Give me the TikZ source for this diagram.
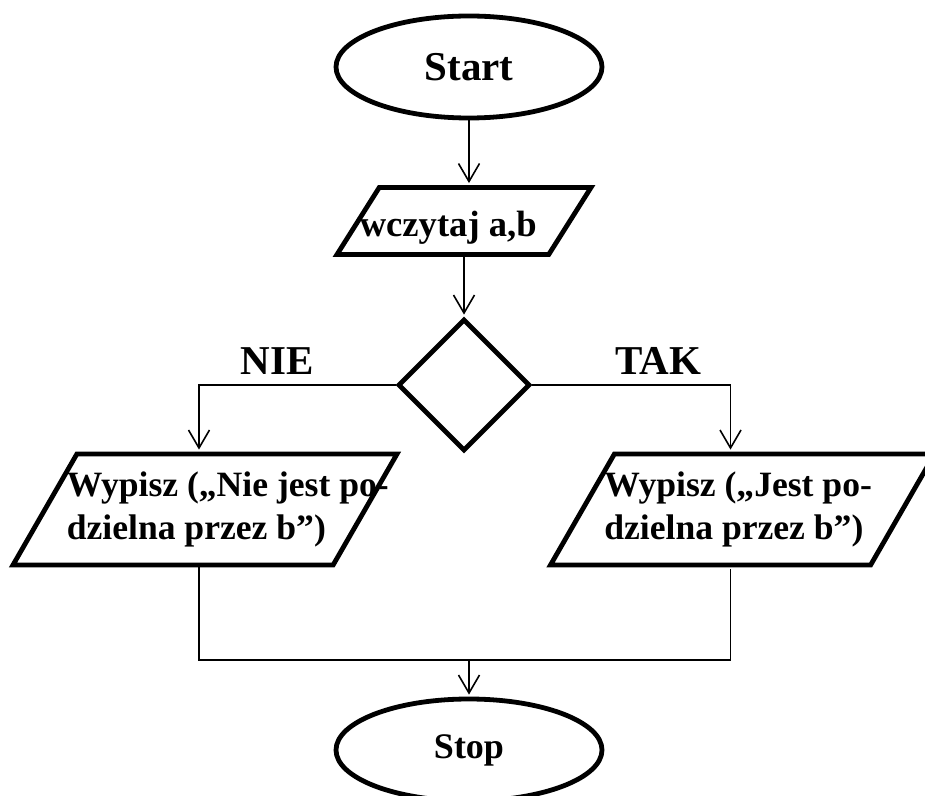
\documentclass[tikz,border=0pt]{standalone}
\usepackage{fontspec}
\setmainfont{Liberation Serif}
\usetikzlibrary{shapes.geometric,positioning,arrows.meta}

\begin{document}
\begin{tikzpicture}[shorten >=1pt,node distance=2cm,on grid,auto,line width=0.8pt,
	>={Straight Barb[length=9pt,width=10.5pt]},
	terminal/.style={ellipse,draw,line width=2.4pt,minimum width=133pt,minimum height=51pt,inner sep=0pt},
	io/.style={trapezium,trapezium left angle=76,trapezium right angle=104,trapezium stretches,draw,line width=2.4pt,inner sep=2pt},
	decision/.style={diamond,draw,line width=2.4pt,minimum width=66pt,minimum height=66pt,inner sep=0pt},
	answer/.style={font=\fontsize{20.5}{24}\selectfont\bfseries},
	msg/.style={align=left,inner sep=0pt,font=\fontsize{17.8}{21.5}\selectfont\bfseries}]
	\useasboundingbox (0,0) rectangle (462.5pt,-398pt);

	\node[terminal,font=\fontsize{20.5}{24}\selectfont\bfseries] (start) at (234.5pt,-33.5pt) {Start};
	\node[io,minimum width=127pt,minimum height=33.5pt] (read) [below left=77pt and 2.5pt of start] {};
	\node[msg,font=\fontsize{18.3}{22}\selectfont\bfseries,anchor=base west] (read_txt) at ([xshift=-52.5pt,yshift=-8pt]read.center) {wczytaj a,b};
	\node[decision] (test) [below=82pt of read] {};
	\node[answer] (lbl_no) [above left=12pt and 93.5pt of test] {NIE};
	\node[answer] (lbl_yes) [above right=12pt and 97.2pt of test] {TAK};
	\node[io,minimum width=192pt,minimum height=55.5pt] (print_no) [below left=62.25pt and 129.5pt of test] {};
	\node[io,minimum width=192pt,minimum height=55.5pt] (print_yes) [below right=62.25pt and 139.25pt of test] {};
	\node[msg,anchor=west] (print_no_txt) at ([xshift=-69.5pt]print_no.center) {Wypisz („Nie jest po-\\dzielna przez b”)};
	\node[msg,anchor=west] (print_yes_txt) at ([xshift=-69.5pt]print_yes.center) {Wypisz („Jest po-\\dzielna przez b”)};
	\node[terminal,font=\fontsize{18}{22}\selectfont\bfseries] (stop) [below=341.5pt of start] {Stop};
	\coordinate[above=45pt of stop] (join);

	\path[->] (start) edge (read.north -| start)
	          (read) edge (test);
	\draw[->] (test.west) -| ([xshift=-3pt]print_no.north);
	\draw[->] (test.east) -| ([xshift=-6pt]print_yes.north);
	\draw ([xshift=-3pt]print_no.south) |- (join) -| ([xshift=-6pt]print_yes.south);
	\draw[->] (join) -- (stop);
\end{tikzpicture}
\end{document}
